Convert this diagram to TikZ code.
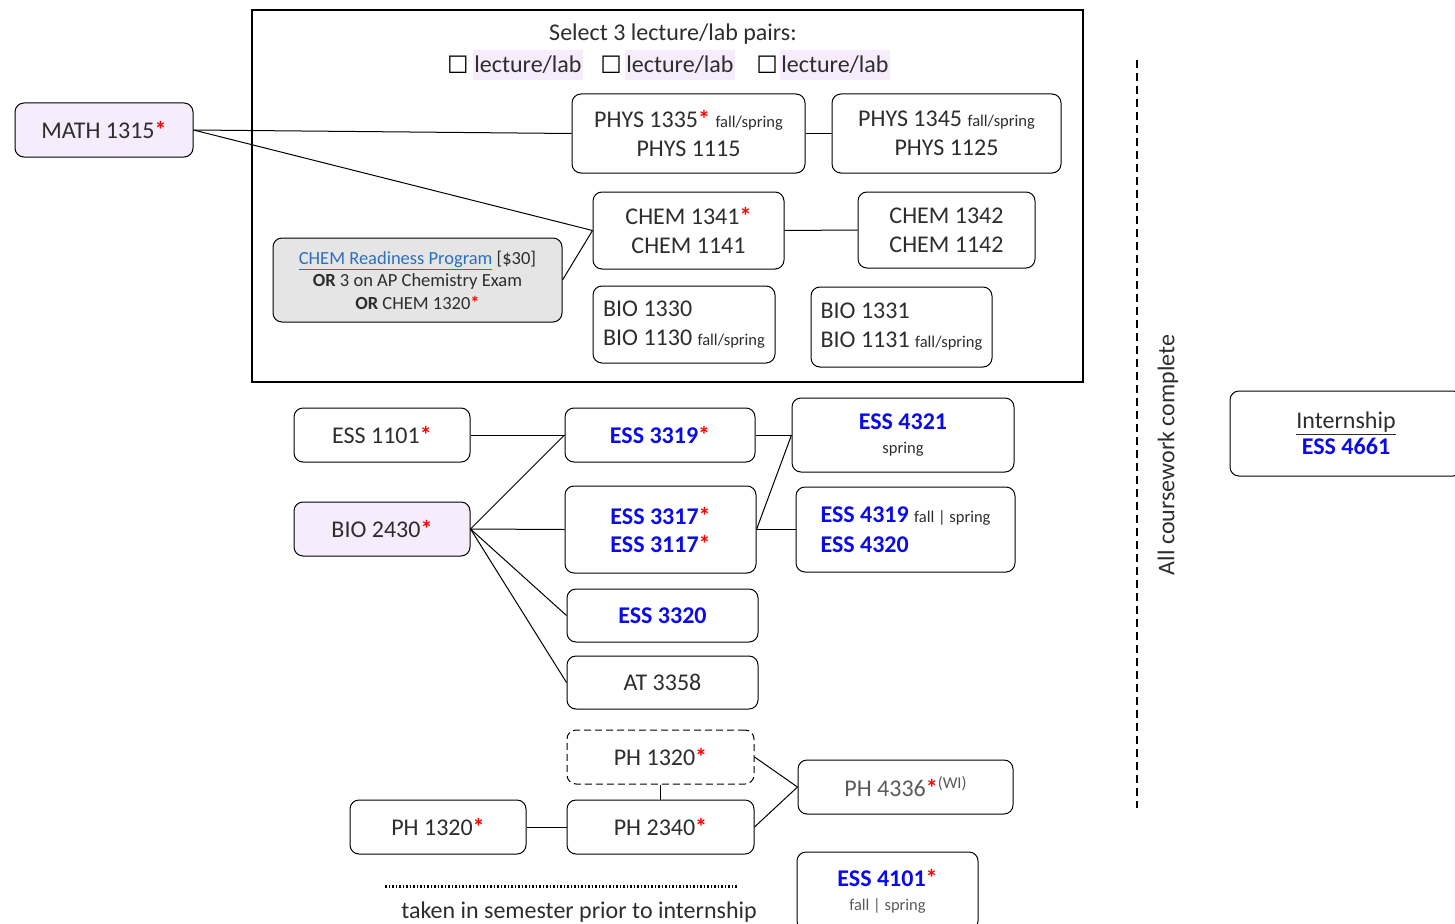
\documentclass[tikz,border=0pt]{standalone}
\usepackage{fontspec}
\setmainfont{Carlito}
\newfontfamily\symf{DejaVu Sans}
\definecolor{txt}{RGB}{45,45,45}
\definecolor{lav}{RGB}{246,236,251}
\definecolor{gfill}{RGB}{229,229,229}
\definecolor{eblue}{RGB}{10,10,235}
\definecolor{lnk}{RGB}{46,110,190}
\definecolor{gtxt}{RGB}{90,90,90}
\newcommand{\st}{\textcolor{red}{\textbf{*}}}
\newcommand{\fbig}{\fontsize{24}{29}\selectfont}
\newcommand{\fsm}{\fontsize{16.5}{19}\selectfont}
\newcommand{\fmid}{\fontsize{18.5}{22.5}\selectfont}
\newcommand{\eb}[1]{\textcolor{eblue}{\textbf{#1}}}
\begin{document}
\begin{tikzpicture}[x=1pt,y=-1pt,
  cbox/.style={draw=black, rounded corners=9pt, line width=1pt, inner sep=0pt, text=txt, font=\fbig, align=center},
  conn/.style={draw=black, line width=1pt},
  hl/.style={fill=lav, inner sep=1pt, text=txt, font=\fbig}]
\useasboundingbox (0,0) rectangle (1455,923);
% outer frame
\node[draw=black, line width=2.5pt, minimum width=831, minimum height=372, inner sep=0pt] (frame) at (667.5,196) {};
\node[text=txt, font=\fbig, inner sep=0pt] (title) at (673,34) {Select 3 lecture/lab pairs:};
\node[text=black, font=\fontsize{24}{24}\selectfont\symf, inner sep=0pt] (cb1) at (458,65) {☐};
\node[hl, minimum width=106, minimum height=30] (l1) at (528,65) {lecture/lab};
\node[text=black, font=\fontsize{24}{24}\selectfont\symf, inner sep=0pt] (cb2) at (611,65) {☐};
\node[hl, minimum width=106, minimum height=30] (l2) at (680,65) {lecture/lab};
\node[text=black, font=\fontsize{24}{24}\selectfont\symf, inner sep=0pt] (cb3) at (767,65) {☐};
\node[hl, minimum width=106, minimum height=30] (l3) at (835,65) {lecture/lab};

\node[cbox, fill=lav, minimum width=178, minimum height=54] (math) at (104,130) {MATH 1315\st};
\node[cbox, minimum width=233, minimum height=79] (phys1) at (688.5,133.5) {PHYS 1335\st\ {\fsm fall/spring}\\PHYS 1115};
\node[cbox, minimum width=229, minimum height=79] (phys2) at (946.5,133.5) {PHYS 1345 {\fsm fall/spring}\\PHYS 1125};
\node[cbox, minimum width=191, minimum height=77] (chem1) at (688.5,230.5) {CHEM 1341\st\\CHEM 1141};
\node[cbox, minimum width=177, minimum height=76] (chem2) at (946.5,230) {CHEM 1342\\CHEM 1142};
\node[cbox, fill=gfill, minimum width=289, minimum height=84, font=\fmid] (ready) at (417.5,280) {\textcolor{lnk}{\underline{CHEM Readiness Program}} [\$30]\\\textbf{OR} 3 on AP Chemistry Exam\\\textbf{OR} CHEM 1320\st};
\node[cbox, minimum width=182, minimum height=77, align=left] (bio1) at (684,324.5) {BIO 1330\\BIO 1130 {\fsm fall/spring}};
\node[cbox, minimum width=181, minimum height=80, align=left] (bio2) at (901.5,327) {BIO 1331\\BIO 1131 {\fsm fall/spring}};

\node[cbox, minimum width=176, minimum height=54] (ess1101) at (382,435) {ESS 1101\st};
\node[cbox, minimum width=190, minimum height=54] (ess3319) at (660,435) {\eb{ESS 3319}\st};
\node[cbox, minimum width=222, minimum height=74] (ess4321) at (903,435) {\eb{ESS 4321}\\[-5pt]{\fsm spring}};
\node[cbox, fill=lav, minimum width=176, minimum height=54] (bio2430) at (382,529) {BIO 2430\st};
\node[cbox, minimum width=191, minimum height=87, font=\fontsize{24}{28}\selectfont] (ess3317) at (660.5,529.5) {\eb{ESS 3317}\st\\\eb{ESS 3117}\st};
\node[cbox, minimum width=219, minimum height=85, align=left, font=\fontsize{24}{30}\selectfont] (ess4319) at (905.5,529.5) {\eb{ESS 4319} {\fsm fall {\textbar} spring}\\\eb{ESS 4320}};
\node[cbox, minimum width=191, minimum height=53] (ess3320) at (662.5,615.5) {\eb{ESS 3320}};
\node[cbox, minimum width=191, minimum height=53] (at3358) at (662.5,682.5) {AT 3358};

\node[cbox, dashed, dash pattern=on 7pt off 4pt, minimum width=187, minimum height=54] (ph1320d) at (660.5,757) {PH 1320\st};
\node[cbox, minimum width=176, minimum height=54] (ph1320) at (438,827) {PH 1320\st};
\node[cbox, minimum width=187, minimum height=54] (ph2340) at (660.5,827) {PH 2340\st};
\node[cbox, minimum width=215, minimum height=54, text=gtxt] (ph4336) at (905.5,787) {PH 4336\st\raisebox{8pt}{\fsm(WI)}};
\node[cbox, minimum width=181, minimum height=78] (ess4101) at (887.5,891) {\eb{ESS 4101}\st\\[-5pt]{\fsm\textcolor{gtxt}{fall {\textbar} spring}}};

\node[cbox, minimum width=232, minimum height=85] (intern) at (1346,433.5) {\underline{Internship}\\[-3pt]\eb{ESS 4661}};

% dashed divider
\coordinate (dv1) at (1137,60);
\coordinate (dv2) at (1137,808);
\draw[line width=1.5pt, dash pattern=on 8pt off 5pt] (dv1) -- (dv2);
\node[rotate=90, text=txt, font=\fbig, inner sep=0pt] (allc) at (1168,455) {All coursework complete};

% dotted line + note
\coordinate (dt1) at (385,886);
\coordinate (dt2) at (738,886);
\draw[line width=3pt, dash pattern=on 1.5pt off 2pt] (dt1) -- (dt2);
\node[text=txt, font=\fbig, inner sep=0pt] (note) at (579,912) {taken in semester prior to internship};

% connectors
\draw[conn] (math.east) -- (phys1.west);
\draw[conn] (math.east) -- (chem1.west);
\draw[conn] (ready.east) -- (chem1.west);
\draw[conn] (phys1.east) -- (phys2.west);
\draw[conn] (chem1.east) -- (chem2.west);
\draw[conn] (ess1101.east) -- (ess3319.west);
\draw[conn] (bio2430.east) -- (ess3319.west);
\draw[conn] (bio2430.east) -- (ess3317.west);
\draw[conn] (bio2430.east) -- (ess3320.west);
\draw[conn] (bio2430.east) -- (at3358.west);
\draw[conn] (ess3319.east) -- (ess4321.west);
\draw[conn] (ess3317.east) -- (ess4321.west);
\draw[conn] (ess3317.east) -- (ess4319.west);
\draw[conn] (ph1320.east) -- (ph2340.west);
\draw[conn] (ph1320d.south) -- (ph2340.north);
\draw[conn] (ph1320d.east) -- (ph4336.west);
\draw[conn] (ph2340.east) -- (ph4336.west);
\end{tikzpicture}
\end{document}
